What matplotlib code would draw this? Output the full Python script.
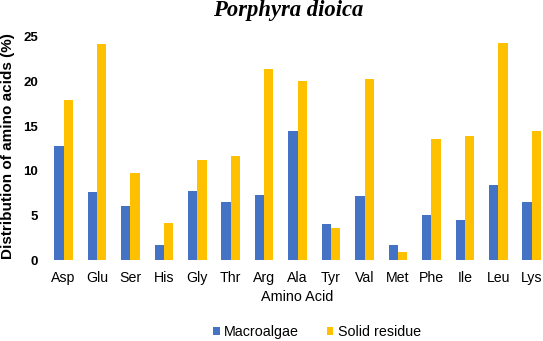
import numpy as np
from matplotlib import pyplot as plt

amino_acids = ['Asp', 'Glu', 'Ser', 'His', 'Gly', 'Thr', 'Arg', 'Ala',
               'Tyr', 'Val', 'Met', 'Phe', 'Ile', 'Leu', 'Lys']
macroalgae = [12.8, 7.6, 6.0, 1.7, 7.7, 6.5, 7.3, 14.5,
              4.0, 7.2, 1.7, 5.1, 4.5, 8.4, 6.5]
solid_residue = [17.9, 24.2, 9.8, 4.2, 11.2, 11.7, 21.4, 20.1,
                 3.6, 20.3, 0.9, 13.6, 13.9, 24.3, 14.5]

fig = plt.figure(figsize=(5.43, 3.41), dpi=100)
# axes runs slightly past the right edge, like the cropped original
ax = fig.add_axes([0.0862, 0.2375, 0.9238, 0.654])

x = np.arange(len(amino_acids))
w = 0.278
ax.bar(x - w / 2, macroalgae, w, color='#4472C4', label='Macroalgae')
ax.bar(x + w / 2, solid_residue, w, color='#FFC000', label='Solid residue')

ax.set_xlim(-0.5, len(amino_acids) - 0.5)
ax.set_ylim(0, 25)
ax.set_yticks([0, 5, 10, 15, 20, 25])
ax.set_xticks(x)
ax.set_xticklabels(amino_acids, fontsize=10.2, family='Liberation Sans')
for lbl in ax.get_yticklabels():
    lbl.set_fontweight('bold')
    lbl.set_fontsize(9.5)
    lbl.set_family('Liberation Sans')
ax.tick_params(axis='x', length=0, pad=8)
ax.tick_params(axis='y', length=0, pad=6.5)
for s in ax.spines.values():
    s.set_visible(False)

ax.set_xlabel('Amino Acid', fontsize=10.4, family='Liberation Sans')
ax.xaxis.set_label_coords((297 - 46.8) / (0.9238 * 543), -(297 - 260) / 223.0)
ax.xaxis.label.set_va('center')
ax.set_ylabel('Distribution of amino acids (%)', fontsize=11,
              family='Liberation Sans', fontweight='bold')
ax.yaxis.set_label_coords(-0.0774, 0.509)
ax.yaxis.label.set_va('center')
fig.text(0.530, 0.968, 'Porphyra dioica', ha='center', va='center',
         fontsize=16.3, family='Liberation Serif', fontweight='bold', style='italic')

fig.legend(loc='center', bbox_to_anchor=(0.584, 1 - 332 / 341), ncol=2, frameon=False,
           prop={'family': 'Liberation Sans', 'size': 10.3},
           handlelength=0.45, handleheight=0.45, handletextpad=0.3,
           columnspacing=1.95, borderpad=0, borderaxespad=0)

plt.savefig('out.png', dpi=100)
